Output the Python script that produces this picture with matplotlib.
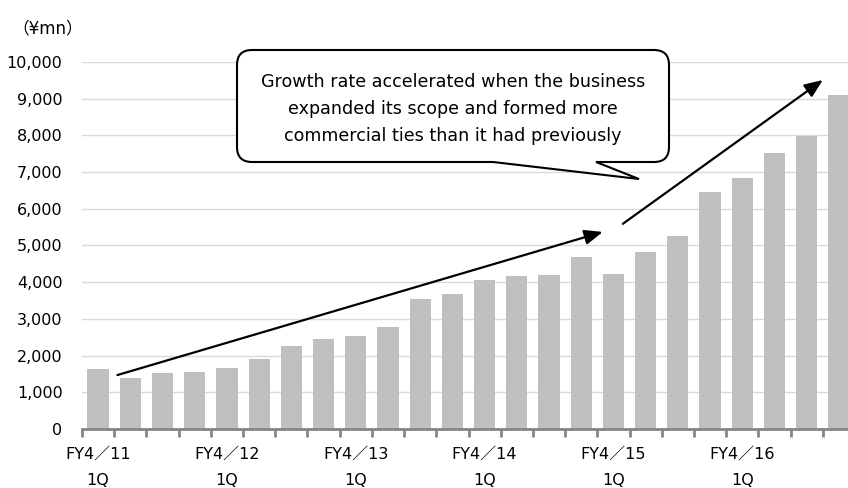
import numpy as np
import matplotlib
matplotlib.use("Agg")
import matplotlib.pyplot as plt
from matplotlib.path import Path
from matplotlib.patches import PathPatch

plt.rcParams["font.family"] = ["DejaVu Sans", "Noto Sans CJK JP"]

# quarterly sales, FY4/11 1Q .. FY4/16 4Q (¥mn)
sales = [1640, 1400, 1530, 1550, 1650, 1920, 2260, 2460,
         2530, 2780, 3540, 3680, 4050, 4160, 4200, 4690,
         4220, 4820, 5270, 6460, 6840, 7520, 7990, 9100]
year_labels = ["FY4／11\n1Q", "FY4／12\n1Q", "FY4／13\n1Q",
               "FY4／14\n1Q", "FY4／15\n1Q", "FY4／16\n1Q"]
yticks = [0, 1000, 2000, 3000, 4000, 5000, 6000, 7000, 8000, 9000, 10000]
note = ("Growth rate accelerated when the business\n"
        "expanded its scope and formed more\n"
        "commercial ties than it had previously")

W, H = 848, 488
fig = plt.figure(figsize=(W / 100, H / 100), dpi=100)
# right edge of the plot runs past the figure, the last bar is cut off
ax = fig.add_axes([82 / W, 1 - 429 / H, 773 / W, (429 - 62) / H])

x = np.arange(len(sales))
ax.bar(x, sales, width=0.66, color="#bfbfbf", zorder=2)

ax.set_xlim(-0.5, len(sales) - 0.5)
ax.set_ylim(0, 10000)
ax.set_yticks(yticks)
ax.set_yticklabels([f"{v:,}" for v in yticks], fontsize=11.5)
ax.yaxis.grid(True, color="#d9d9d9", linewidth=1)
ax.set_axisbelow(True)
ax.tick_params(axis="y", length=0, pad=14)

ax.set_xticks(x[::4])
ax.set_xticklabels(year_labels, fontsize=11.5, linespacing=1.9)
for lbl in ax.get_xticklabels():
    lbl.set_multialignment("center")
ax.set_xticks(np.arange(len(sales) + 1) - 0.5, minor=True)
ax.tick_params(axis="x", which="major", length=0, pad=13)
ax.tick_params(axis="x", which="minor", length=6, width=2, color="#868686")

for s in ["left", "top", "right"]:
    ax.spines[s].set_visible(False)
ax.spines["bottom"].set_color("#868686")
ax.spines["bottom"].set_linewidth(2)

fig.text(12 / W, 1 - 28 / H, "（¥mn）", fontsize=12, va="center", ha="left")

# growth arrows
arrow = dict(arrowstyle="-|>,head_length=1.1,head_width=0.45", color="black",
             lw=1.6, shrinkA=0, shrinkB=0)
ax.annotate("", xy=(15.67, 5370), xytext=(0.6, 1470), arrowprops=arrow,
            annotation_clip=False)
ax.annotate("", xy=(22.5, 9510), xytext=(16.29, 5590), arrowprops=arrow,
            annotation_clip=False)


def px(xp, yp):
    return (xp / W, 1 - yp / H)


# callout box with a tail
L, R, T, B, r = 237, 669, 50, 162, 15
pts = [
    (px(L + r, T), Path.MOVETO),
    (px(R - r, T), Path.LINETO),
    (px(R, T), Path.CURVE3), (px(R, T + r), Path.CURVE3),
    (px(R, B - r), Path.LINETO),
    (px(R, B), Path.CURVE3), (px(R - r, B), Path.CURVE3),
    (px(596, B), Path.LINETO),
    (px(639, 179), Path.LINETO),
    (px(493, B), Path.LINETO),
    (px(L + r, B), Path.LINETO),
    (px(L, B), Path.CURVE3), (px(L, B - r), Path.CURVE3),
    (px(L, T + r), Path.LINETO),
    (px(L, T), Path.CURVE3), (px(L + r, T), Path.CURVE3),
    (px(L + r, T), Path.CLOSEPOLY),
]
verts, codes = zip(*pts)
fig.patches.append(PathPatch(Path(verts, codes), facecolor="white",
                             edgecolor="black", lw=1.5,
                             transform=fig.transFigure, zorder=5))
fig.text(*px((L + R) / 2, 109), note, fontsize=12.6, ha="center", va="center",
         linespacing=1.65, zorder=6)

fig.savefig("out.png", dpi=100)
